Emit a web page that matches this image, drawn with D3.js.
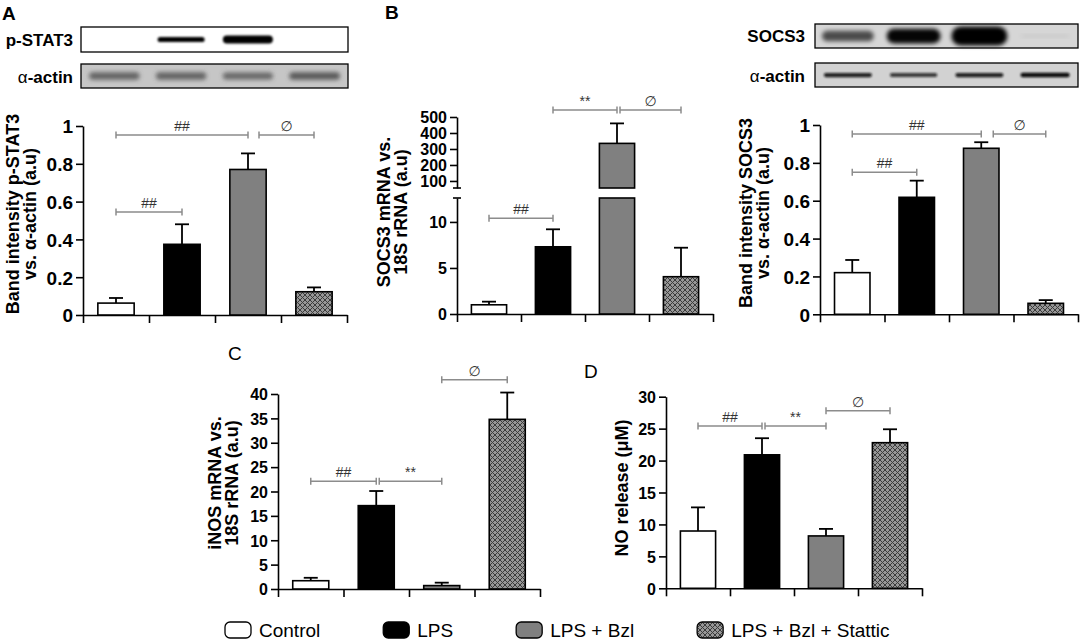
<!DOCTYPE html>
<html>
<head>
<meta charset="utf-8">
<script src="https://cdn.jsdelivr.net/npm/d3@7"></script>
<style>
body { margin: 0; background: #fff; }
svg { display: block; font-family: "Liberation Sans", Arial, sans-serif; }
</style>
</head>
<body>
<div id="canvas"></div>
<script>
"use strict"
let svgWidth = 1084;
let svgHeight = 641;
let fontFamily = "Liberation Sans, Arial, sans-serif";

// groups, same order in every panel
let groups = ["Control", "LPS", "LPS + Bzl", "LPS + Bzl + Stattic"];

// A: p-STAT3 band intensity
let pstat3Mean = [0.063, 0.374, 0.77, 0.123];
let pstat3Sem = [0.027, 0.106, 0.085, 0.023];
let pstat3Ticks = [0, 0.2, 0.4, 0.6, 0.8, 1];

// B: SOCS3 mRNA, broken axis
let socs3mrnaMean = [1.0, 7.3, 335, 4.05];
let socs3mrnaSem = [0.34, 1.9, 125, 3.15];
let socs3mrnaTicksLow = [0, 5, 10];
let socs3mrnaTicksHigh = [100, 200, 300, 400, 500];

// B right: SOCS3 band intensity
let socs3Mean = [0.22, 0.618, 0.877, 0.058];
let socs3Sem = [0.067, 0.088, 0.032, 0.017];
let socs3Ticks = [0, 0.2, 0.4, 0.6, 0.8, 1];

// C: iNOS mRNA
let inosMean = [1.7, 17.1, 0.7, 34.8];
let inosSem = [0.6, 3.0, 0.6, 5.5];
let inosTicks = [0, 5, 10, 15, 20, 25, 30, 35, 40];

// D: NO release
let noMean = [8.97, 20.9, 8.2, 22.8];
let noSem = [3.7, 2.6, 1.1, 2.1];
let noTicks = [0, 5, 10, 15, 20, 25, 30];

// significance brackets: bar a -> bar b at value v
let pstat3Sig = [{a: 0, b: 1, v: 0.545, t: "##"}, {a: 0, b: 2, v: 0.952, t: "##"}, {a: 2, b: 3, v: 0.952, t: "∅", gap: 11}];
let socs3mrnaSig = [{a: 0, b: 1, v: 10.4, t: "##"}, {a: 1, b: 2, v: 543, t: "**"}, {a: 2, b: 3, v: 543, t: "∅", gap: 3}];
let socs3Sig = [{a: 0, b: 1, v: 0.75, t: "##"}, {a: 0, b: 2, v: 0.952, t: "##"}, {a: 2, b: 3, v: 0.952, t: "∅", gap: 12}];
let inosSig = [{a: 0, b: 1, v: 22.1, t: "##"}, {a: 1, b: 2, v: 22.1, t: "**", gap: 3}, {a: 2, b: 3, v: 42.9, t: "∅"}];
let noSig = [{a: 0, b: 1, v: 25.4, t: "##"}, {a: 1, b: 2, v: 25.4, t: "**", gap: 3}, {a: 2, b: 3, v: 27.8, t: "∅"}];

// western blot lanes, rough band strength 0-1
let pstat3Bands = [0, 0.6, 1, 0];
let actinABands = [0.55, 0.55, 0.52, 0.6];
let socs3Bands = [0.5, 0.75, 1, 0.05];
let actinBBands = [0.75, 0.65, 0.75, 0.9];

let fills = ["#ffffff", "#000000", "#808080", "url(#hatch)"];

let svg = d3.select("#canvas")
    .append("svg")
    .attr("width", svgWidth)
    .attr("height", svgHeight);

svg.append("rect")
    .attr("width", svgWidth)
    .attr("height", svgHeight)
    .attr("fill", "#ffffff");

let defs = svg.append("defs");

//cross hatch for the Stattic bars
let pat = defs.append("pattern")
    .attr("id", "hatch")
    .attr("patternUnits", "userSpaceOnUse")
    .attr("width", 5)
    .attr("height", 5);
pat.append("rect").attr("width", 5).attr("height", 5).attr("fill", "#979797");
pat.append("path")
    .attr("d", "M0,0L5,5M5,0L0,5")
    .attr("stroke", "#3c3c3c")
    .attr("stroke-width", 1);

defs.append("filter").attr("id", "blurS")
    .attr("x", "-20%").attr("y", "-50%").attr("width", "140%").attr("height", "200%")
    .append("feGaussianBlur").attr("stdDeviation", 1.1);
defs.append("filter").attr("id", "blurL")
    .attr("x", "-20%").attr("y", "-50%").attr("width", "140%").attr("height", "200%")
    .append("feGaussianBlur").attr("stdDeviation", 2.2);


//blots
function drawBlot(x0, x1, y0, y1, bg, bands, style) {
    svg.append("rect")
        .attr("x", x0).attr("y", y0)
        .attr("width", x1 - x0).attr("height", y1 - y0)
        .attr("fill", bg)
        .attr("stroke", "#000")
        .attr("stroke-width", 1.3);

    let lanes = d3.scaleBand().domain(d3.range(bands.length)).range([x0, x1]);

    bands.forEach(function(v, i){
        if (v <= 0) return;
        let h = style.h0 + style.h1 * v;
        let w = style.w * (0.85 + 0.15 * v);
        svg.append("rect")
            .attr("x", lanes(i) + lanes.bandwidth() / 2 - w / 2)
            .attr("y", (y0 + y1) / 2 - h / 2)
            .attr("width", w)
            .attr("height", h)
            .attr("rx", h / 2)
            .attr("fill", style.color)
            .attr("fill-opacity", Math.min(1, style.k * v))
            .attr("filter", style.blur);
    });
}

function blotLabel(x, y, name, alpha) {
    let t = svg.append("text")
        .attr("x", x).attr("y", y)
        .attr("text-anchor", "end")
        .attr("font-size", 17)
        .attr("font-weight", "bold");
    if (alpha) {
        t.append("tspan").attr("font-weight", "normal").text("α");
        t.append("tspan").text("-actin");
    } else {
        t.text(name);
    }
}

drawBlot(81, 348, 27, 52, "#ffffff", pstat3Bands, {w: 50, h0: 1, h1: 7, color: "#000", k: 2, blur: "url(#blurS)"});
drawBlot(81, 348, 64, 88, "#c6c6c6", actinABands, {w: 54, h0: 4, h1: 6, color: "#555", k: 1.6, blur: "url(#blurL)"});
drawBlot(815, 1078, 24, 48, "#d6d6d6", socs3Bands, {w: 56, h0: 2, h1: 17, color: "#000", k: 1.3, blur: "url(#blurL)"});
drawBlot(815, 1078, 63, 87, "#d2d2d2", actinBBands, {w: 50, h0: 2, h1: 3, color: "#111", k: 1.2, blur: "url(#blurS)"});

blotLabel(73, 46, "p-STAT3", false);
blotLabel(73, 83, "", true);
blotLabel(805, 42, "SOCS3", false);
blotLabel(805, 82, "", true);


//bar panels
function drawPanel(p) {
    let g = svg.append("g");

    let x = d3.scaleBand()
        .domain(groups)
        .range([p.x0, p.x1])
        .paddingInner(0.45)
        .paddingOuter(0.225);

    function segFor(v) {
        let s = p.segments[0];
        p.segments.forEach(function(seg){ if (v >= seg.y.domain()[0]) s = seg; });
        return s;
    }

    //y axis, one piece per segment
    p.segments.forEach(function(seg){
        let axis = d3.axisLeft(seg.y)
            .tickValues(seg.ticks)
            .tickSize(7)
            .tickSizeOuter(0)
            .tickPadding(3)
            .tickFormat(d3.format("~g"));
        let ga = g.append("g")
            .attr("transform", "translate(" + p.x0 + ",0)")
            .call(axis)
            .attr("font-family", fontFamily)
            .attr("font-size", p.tickSize)
            .attr("font-weight", "bold");
        ga.selectAll("path, line").attr("stroke-width", 1.6);
        ga.selectAll("text").attr("dy", "0.36em");
    });

    //break caps on the broken axis
    if (p.segments.length > 1) {
        let yb = [p.segments[0].y.range()[1], p.segments[1].y.range()[0]];
        yb.forEach(function(yy){
            g.append("line")
                .attr("x1", p.x0 - 4).attr("x2", p.x0 + 4)
                .attr("y1", yy).attr("y2", yy)
                .attr("stroke", "#000").attr("stroke-width", 1.6);
        });
    }

    //x axis with ticks between groups
    let y0 = p.segments[0].y(0);
    let xb = d3.scaleLinear().domain([0, groups.length]).range([p.x0, p.x1]);
    let gx = g.append("g")
        .attr("transform", "translate(0," + y0 + ")")
        .call(d3.axisBottom(xb)
            .tickValues(d3.range(groups.length + 1))
            .tickFormat("")
            .tickSize(8)
            .tickSizeOuter(0));
    gx.selectAll("path, line").attr("stroke-width", 1.6);

    //bars
    p.mean.forEach(function(m, i){
        p.segments.forEach(function(seg){
            let lo = seg.y.domain()[0];
            let hi = seg.y.domain()[1];
            if (m <= lo) return;
            let top = Math.min(m, hi);
            g.append("rect")
                .attr("x", x(groups[i]))
                .attr("width", x.bandwidth())
                .attr("y", seg.y(top))
                .attr("height", seg.y(lo) - seg.y(top))
                .attr("fill", fills[i])
                .attr("stroke", "#000")
                .attr("stroke-width", 1.6);
        });

        //upper error bar only
        let seg = segFor(m);
        let cx = x(groups[i]) + x.bandwidth() / 2;
        let ye = seg.y(m + p.sem[i]);
        g.append("line")
            .attr("x1", cx).attr("x2", cx)
            .attr("y1", seg.y(m)).attr("y2", ye)
            .attr("stroke", "#000").attr("stroke-width", 1.8);
        g.append("line")
            .attr("x1", cx - 7).attr("x2", cx + 7)
            .attr("y1", ye).attr("y2", ye)
            .attr("stroke", "#000").attr("stroke-width", 1.8);
    });

    //significance brackets
    p.sig.forEach(function(s){
        let yy = segFor(s.v).y(s.v);
        let xa = x(groups[s.a]) + x.bandwidth() / 2 + (s.gap || 0);
        let xe = x(groups[s.b]) + x.bandwidth() / 2;
        let isNull = (s.t == "∅");
        g.append("path")
            .attr("d", "M" + xa + "," + yy + "H" + xe +
                "M" + xa + "," + (yy - 3.5) + "V" + (yy + 3.5) +
                "M" + xe + "," + (yy - 3.5) + "V" + (yy + 3.5))
            .attr("fill", "none")
            .attr("stroke", "#8c8c8c")
            .attr("stroke-width", 1.5);
        g.append("text")
            .attr("x", (xa + xe) / 2)
            .attr("y", yy - 4)
            .attr("text-anchor", "middle")
            .attr("font-size", isNull ? 14 : 14)
            .attr("font-family", isNull ? "DejaVu Sans" : fontFamily)
            .attr("font-style", isNull ? "italic" : "normal")
            .attr("fill", "#333")
            .text(s.t);
    });

    //y title, rotated
    p.title.forEach(function(line, k){
        g.append("text")
            .attr("transform", "translate(" + p.titleX[k] + "," + p.titleY + ") rotate(-90)")
            .attr("text-anchor", "middle")
            .attr("font-size", 18)
            .attr("font-weight", "bold")
            .text(line);
    });

    //panel letter
    g.append("text")
        .attr("x", p.letter[0])
        .attr("y", p.letter[1])
        .attr("font-size", 19)
        .attr("font-weight", p.letter[3])
        .text(p.letter[2]);
}

drawPanel({
    x0: 83, x1: 347,
    segments: [{y: d3.scaleLinear().domain([0, 1]).range([315, 126]), ticks: pstat3Ticks}],
    mean: pstat3Mean, sem: pstat3Sem, sig: pstat3Sig,
    tickSize: 19,
    title: ["Band intensity p-STAT3", "vs. α-actin (a.u)"], titleX: [19, 36], titleY: 214,
    letter: [2, 20, "A", "bold"]
});

drawPanel({
    x0: 457, x1: 713,
    segments: [
        {y: d3.scaleLinear().domain([0, 12.6]).range([314, 198]), ticks: socs3mrnaTicksLow},
        {y: d3.scaleLinear().domain([56, 500]).range([188, 117]), ticks: socs3mrnaTicksHigh}
    ],
    mean: socs3mrnaMean, sem: socs3mrnaSem, sig: socs3mrnaSig,
    tickSize: 16,
    title: ["SOCS3 mRNA vs.", "18S rRNA (a.u)"], titleX: [390, 407], titleY: 212,
    letter: [385, 19, "B", "bold"]
});

drawPanel({
    x0: 820, x1: 1078,
    segments: [{y: d3.scaleLinear().domain([0, 1]).range([314.3, 125]), ticks: socs3Ticks}],
    mean: socs3Mean, sem: socs3Sem, sig: socs3Sig,
    tickSize: 19,
    title: ["Band intensity SOCS3", "vs. α-actin (a.u)"], titleX: [752, 769], titleY: 213,
    letter: [0, 0, "", "bold"]
});

drawPanel({
    x0: 278, x1: 540,
    segments: [{y: d3.scaleLinear().domain([0, 40]).range([589, 394]), ticks: inosTicks}],
    mean: inosMean, sem: inosSem, sig: inosSig,
    tickSize: 16,
    title: ["iNOS mRNA vs.", "18S rRNA (a.u)"], titleX: [221, 238], titleY: 483,
    letter: [228, 360, "C", "normal"]
});

drawPanel({
    x0: 666, x1: 922,
    segments: [{y: d3.scaleLinear().domain([0, 30]).range([588.3, 396.7]), ticks: noTicks}],
    mean: noMean, sem: noSem, sig: noSig,
    tickSize: 16,
    title: ["NO release (μM)"], titleX: [628], titleY: 488,
    letter: [584, 378, "D", "normal"]
});


//legend
let lx = 225;
groups.forEach(function(name, i){
    svg.append("rect")
        .attr("x", lx)
        .attr("y", 622)
        .attr("width", 26)
        .attr("height", 16)
        .attr("rx", 5)
        .attr("fill", fills[i])
        .attr("stroke", "#000")
        .attr("stroke-width", 1.3);
    let t = svg.append("text")
        .attr("x", lx + 34)
        .attr("y", 637)
        .attr("font-size", 19)
        .text(name);
    lx = lx + 34 + t.node().getComputedTextLength() + 63;
});
</script>
</body>
</html>
